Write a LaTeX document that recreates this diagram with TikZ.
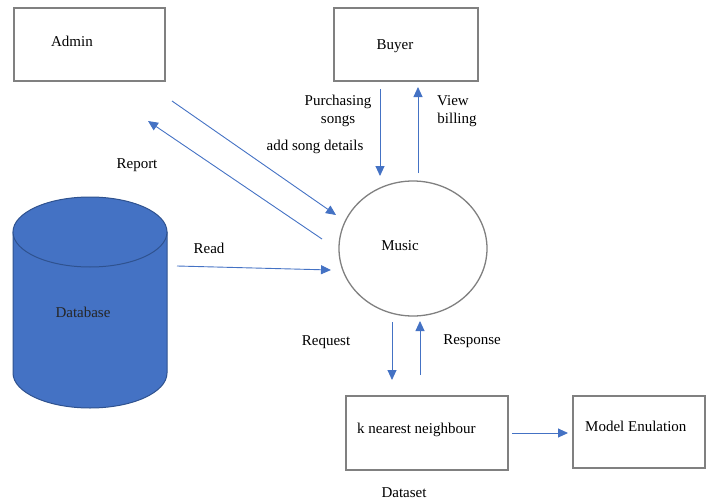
\documentclass[tikz,border=0pt]{standalone}
\usepackage{fontspec}
\setmainfont{Liberation Serif}
\usetikzlibrary{arrows.meta}
\definecolor{flowblue}{HTML}{4472C4}
\definecolor{dbedge}{HTML}{2F528F}
\definecolor{boxgray}{HTML}{808080}
\begin{document}
\begin{tikzpicture}[x=1pt,y=-1pt,
  ent/.style={draw=boxgray,line width=1.3pt},
  lbl/.style={inner sep=0pt,font=\fontsize{15}{17.5}\selectfont,align=center},
  flow/.style={draw=flowblue,line width=0.9pt,-{Triangle[length=10pt,width=9pt]}}]
\useasboundingbox (0,0) rectangle (707,503);
% boxes
\draw[ent] (14,8) rectangle (165,81);
\node[lbl] (admin) at (72,41) {Admin};
\draw[ent] (334,8) rectangle (478,81);
\node[lbl] (buyer) at (395,46) {Buyer};
\draw[ent] (346,396) rectangle (508,470);
\node[lbl,anchor=west] (knn) at (357,430) {k nearest neighbour};
\draw[ent] (573,396) rectangle (705,468);
\node[lbl,anchor=west] (model) at (585,426) {Model Enulation};
% music ellipse
\draw[ent] (413,248.5) ellipse [x radius=74, y radius=67.5];
\node[lbl] (music) at (400,246) {Music};
% database
\fill[flowblue,draw=dbedge,line width=1pt] (13,232) -- (13,373) arc[start angle=180,end angle=0,x radius=77,y radius=35] -- (167,232) -- cycle;
\draw[fill=flowblue,draw=dbedge,line width=1pt] (90,232) ellipse [x radius=77, y radius=35];
\node[lbl,text=black!85] (db) at (83,312) {Database};
% coordinates
\coordinate (a1) at (172,101); \coordinate (a2) at (336,215);
\coordinate (r1) at (322,239); \coordinate (r2) at (148,121);
\coordinate (b1) at (380,89); \coordinate (b2) at (380,176);
\coordinate (v1) at (418,173); \coordinate (v2) at (418,87);
\coordinate (d1) at (177,266); \coordinate (d2) at (331,270);
\coordinate (q1) at (392,322); \coordinate (q2) at (392,380);
\coordinate (s1) at (420,375); \coordinate (s2) at (420,321);
\coordinate (k1) at (512,433); \coordinate (k2) at (568,433);
\draw[flow] (a1) -- (a2);
\draw[flow] (r1) -- (r2);
\draw[flow] (b1) -- (b2);
\draw[flow] (v1) -- (v2);
\draw[flow] (d1) -- (d2);
\draw[flow] (q1) -- (q2);
\draw[flow] (s1) -- (s2);
\draw[flow] (k1) -- (k2);
% labels
\node[lbl] (purch) at (338,111) {Purchasing\\songs};
\node[lbl] (view) at (457,111) {\hspace*{-8pt}View\\billing};
\node[lbl] (add) at (315,147) {add song details};
\node[lbl] (report) at (137,165) {Report};
\node[lbl] (read) at (209,248) {Read};
\node[lbl] (req) at (326,342) {Request};
\node[lbl] (resp) at (472,341) {Response};
\node[lbl] (dataset) at (404,493) {Dataset};
\end{tikzpicture}
\end{document}
